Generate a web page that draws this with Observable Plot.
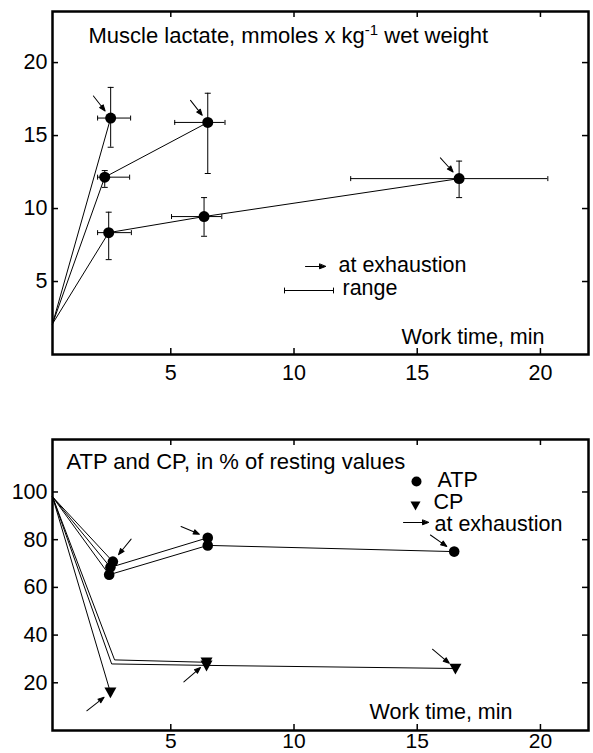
<!DOCTYPE html>
<html><head><meta charset="utf-8">
<script src="https://cdn.jsdelivr.net/npm/d3@7"></script>
<script src="https://cdn.jsdelivr.net/npm/@observablehq/plot@0.6"></script>
<style>body{margin:0;background:#fff} svg{display:block}</style>
</head><body><div id="chart"></div>
<script>
// ---------- DATA ----------
const restTime = 0.2;          // resting sample, drawn at the left edge of the frame
const lactRest = 2.1;          // mmol/kg wet weight at rest
const lactSeries   = ["A", "B", "B", "C", "C", "C"];
const lactTime     = [2.56, 2.32, 6.5, 2.48, 6.35, 16.7];
const lactValue    = [16.2, 12.15, 15.9, 8.35, 9.45, 12.05];
const lactLow      = [14.2, 11.45, 12.4, 6.5, 8.1, 10.75];
const lactHigh     = [18.3, 12.6, 17.9, 9.75, 10.75, 13.25];
const lactTimeLow  = [2.03, 2.03, 5.16, 2.03, 5.03, 12.3];
const lactTimeHigh = [3.37, 3.33, 7.2, 3.4, 7.07, 20.3];
const lactExhausted = [true, false, true, false, false, true];

const pctRest = 98;            // % of resting values at start
const atpSeries = ["A", "B", "B", "C", "C", "C"];
const atpTime   = [2.65, 2.55, 6.5, 2.5, 6.5, 16.5];
const atpValue  = [70.8, 68.4, 80.8, 65.3, 77.6, 75];
const atpExhausted = [true, false, true, false, false, true];
const cpSeries  = ["A", "B", "B", "C", "C", "C"];
const cpTime    = [2.55, 2.72, 6.45, 2.6, 6.45, 16.55];
const cpValue   = [16, 29.6, 28.6, 27.9, 27.3, 26];
const cpMarked  = [true, false, true, false, true, true];
const cpExhausted = [true, false, true, false, false, true];

const xTicks = [5, 10, 15, 20];
const lactTicks = [5, 10, 15, 20];
const pctTicks = [20, 40, 60, 80, 100];

// direction (deg, clockwise from north) of each "at exhaustion" arrow tail, seen from its point
const lactArrowDir = [-38, -38, -42];
const atpArrowDir = [39, -67, -55];
const cpArrowDir = [-128, -131, -50];

const titleTop = "Muscle lactate, mmoles x kg-1 wet weight";
const titleBottom = "ATP and CP, in % of resting values";
const xTitle = "Work time, min";

// ---------- BUILD ----------
const groups = ["A", "B", "C"];
const lactPts = lactSeries.map((s, i) => ({series: s, time: lactTime[i], value: lactValue[i],
  lo: lactLow[i], hi: lactHigh[i], tlo: lactTimeLow[i], thi: lactTimeHigh[i], exh: lactExhausted[i]}));
const lactLines = groups.flatMap(s => [{series: s, time: restTime, value: lactRest}, ...lactPts.filter(d => d.series === s)]);
const lactArrows = lactPts.filter(d => d.exh).map((d, j) => ({...d, dir: lactArrowDir[j]}));

const atpPts = atpSeries.map((s, i) => ({series: s, time: atpTime[i], value: atpValue[i], exh: atpExhausted[i]}));
const cpPts = cpSeries.map((s, i) => ({series: s, time: cpTime[i], value: cpValue[i], marked: cpMarked[i], exh: cpExhausted[i]}));
const atpLines = groups.flatMap(s => [{series: s, time: restTime, value: pctRest}, ...atpPts.filter(d => d.series === s)]);
const cpLines = groups.flatMap(s => [{series: s, time: restTime, value: pctRest}, ...cpPts.filter(d => d.series === s)]);
const atpArrows = atpPts.filter(d => d.exh).map((d, j) => ({...d, dir: atpArrowDir[j]}));
const cpArrows = cpPts.filter(d => d.exh).map((d, j) => ({...d, dir: cpArrowDir[j]}));

// ---------- SHAPES ----------
function arrowShape(gap) {
  return {draw(ctx, l) {
    const hl = 6, hw = 2.3;
    ctx.moveTo(0, -l);
    ctx.lineTo(0, -gap - hl + 1);
    ctx.moveTo(0, -gap);
    ctx.lineTo(-hw, -gap - hl);
    ctx.lineTo(hw, -gap - hl);
    ctx.closePath();
  }};
}
const rangeShape = {draw(ctx, l) {
  ctx.moveTo(0, 0); ctx.lineTo(0, -l);
  ctx.moveTo(-2.5, 0); ctx.lineTo(2.5, 0);
  ctx.moveTo(-2.5, -l); ctx.lineTo(2.5, -l);
}};
const hCap = {draw(ctx, size) { const r = Math.sqrt(size / Math.PI); ctx.moveTo(-r, 0); ctx.lineTo(r, 0); }};
const vCap = {draw(ctx, size) { const r = Math.sqrt(size / Math.PI); ctx.moveTo(0, -r); ctx.lineTo(0, r); }};
const downTri = {draw(ctx, size) {
  const r = Math.sqrt(size / Math.PI);
  ctx.moveTo(-r, -r * 0.8); ctx.lineTo(r, -r * 0.8); ctx.lineTo(0, r); ctx.closePath();
}};

const font = "'Liberation Sans', Arial, Helvetica, sans-serif";
const W = 593, ML = 52, MR = 5;
const innerW = W - ML - MR;
// labelled axes plus short inward ticks on all four sides of the frame
function axes(yTicks, xPad, innerH, fontSize) {
  const tk = {stroke: "black", strokeWidth: 1.5};
  return [
    Plot.axisX({ticks: xTicks, anchor: "bottom", tickSize: 0, tickPadding: xPad, label: null, fontSize}),
    Plot.axisY({ticks: yTicks, anchor: "left", tickSize: 0, tickPadding: 5, label: null}),
    Plot.tickX(xTicks, {x: d => d, insetTop: innerH - 6, ...tk}),
    Plot.tickX(xTicks, {x: d => d, insetBottom: innerH - 6, ...tk}),
    Plot.tickY(yTicks, {y: d => d, insetRight: innerW - 6, ...tk}),
    Plot.tickY(yTicks, {y: d => d, insetLeft: innerW - 6, ...tk})
  ];
}
const T = (s, o) => Plot.text([s], {text: d => d, lineAnchor: "bottom", fill: "black", ...o});

// ---------- TOP CHART ----------
const topH = 382, topMT = 11, topMB = 28;
const topChart = Plot.plot({
  width: W, height: topH,
  marginTop: topMT, marginRight: MR, marginBottom: topMB, marginLeft: ML,
  style: {fontFamily: font, fontSize: "21.5px", background: "white", color: "black", overflow: "visible"},
  x: {domain: [0.2, 21.95], label: null},
  y: {domain: [0, 23.5], label: null},
  marks: [
    Plot.line(lactLines, {x: "time", y: "value", z: "series", stroke: "black", strokeWidth: 1}),
    Plot.ruleX(lactPts, {x: "time", y1: "lo", y2: "hi", stroke: "black", strokeWidth: 1}),
    Plot.ruleY(lactPts, {y: "value", x1: "tlo", x2: "thi", stroke: "black", strokeWidth: 1}),
    Plot.dot(lactPts.flatMap(d => [{x: d.time, y: d.lo}, {x: d.time, y: d.hi}]), {x: "x", y: "y", symbol: hCap, r: 3, stroke: "black", fill: "none", strokeWidth: 1}),
    Plot.dot(lactPts.flatMap(d => [{x: d.tlo, y: d.value}, {x: d.thi, y: d.value}]), {x: "x", y: "y", symbol: vCap, r: 2.5, stroke: "black", fill: "none", strokeWidth: 1}),
    Plot.dot(lactPts, {x: "time", y: "value", r: 5.5, fill: "black", stroke: "none"}),
    Plot.vector(lactArrows, {x: "time", y: "value", rotate: "dir", length: 28, anchor: "start", shape: arrowShape(9), stroke: "black", fill: "black", strokeWidth: 1}),
    Plot.frame({stroke: "black", strokeWidth: 2.5}),
    ...axes(lactTicks, 10, topH - topMT - topMB, 21.5),
    T(titleTop, {frameAnchor: "top-left", dx: 36, dy: 31, textAnchor: "start", fontSize: 22}),
    T(xTitle, {frameAnchor: "bottom-right", dx: -44, dy: -11, textAnchor: "end", fontSize: 21.5}),
    Plot.vector([0], {frameAnchor: "top-left", dx: 273, dy: 255, rotate: -90, length: 20, anchor: "start", shape: arrowShape(0), stroke: "black", fill: "black", strokeWidth: 1}),
    T("at exhaustion", {frameAnchor: "top-left", dx: 286, dy: 260, textAnchor: "start", fontSize: 21.5}),
    Plot.vector([0], {frameAnchor: "top-left", dx: 232, dy: 279, rotate: 90, length: 49, anchor: "start", shape: rangeShape, stroke: "black", fill: "none", strokeWidth: 1}),
    T("range", {frameAnchor: "top-left", dx: 290, dy: 283, textAnchor: "start", fontSize: 21.5})
  ]
});
d3.select(topChart).selectAll("text").filter(function () { return this.textContent === titleTop; }).each(function () {
  const t = d3.select(this);
  const [a, b] = titleTop.split("-1");
  t.text(null);
  t.append("tspan").text(a);
  t.append("tspan").attr("font-size", 15).attr("dy", -8).text("-1");
  t.append("tspan").attr("dy", 8).text(b);
});

// ---------- BOTTOM CHART ----------
const botH = 371, botMT = 57, botMB = 23;
const bottomChart = Plot.plot({
  width: W, height: botH,
  marginTop: botMT, marginRight: MR, marginBottom: botMB, marginLeft: ML,
  style: {fontFamily: font, fontSize: "21.5px", background: "white", color: "black", overflow: "visible"},
  x: {domain: [0.2, 21.95], label: null},
  y: {domain: [0, 122], label: null},
  marks: [
    Plot.line(atpLines, {x: "time", y: "value", z: "series", stroke: "black", strokeWidth: 1}),
    Plot.line(cpLines, {x: "time", y: "value", z: "series", stroke: "black", strokeWidth: 1}),
    Plot.dot(atpPts, {x: "time", y: "value", r: 5.3, fill: "black", stroke: "none"}),
    Plot.dot(cpPts.filter(d => d.marked), {x: "time", y: "value", r: 6, symbol: downTri, fill: "black", stroke: "none"}),
    Plot.vector(atpArrows, {x: "time", y: "value", rotate: "dir", length: 29, anchor: "start", shape: arrowShape(9), stroke: "black", fill: "black", strokeWidth: 1}),
    Plot.vector(cpArrows, {x: "time", y: "value", rotate: "dir", length: 30, anchor: "start", shape: arrowShape(8), stroke: "black", fill: "black", strokeWidth: 1}),
    Plot.frame({stroke: "black", strokeWidth: 2.5}),
    ...axes(pctTicks, 3, botH - botMT - botMB, 21),
    T(titleBottom, {frameAnchor: "top-left", dx: 14, dy: 29, textAnchor: "start", fontSize: 22}),
    T(xTitle, {frameAnchor: "bottom-right", dx: -76, dy: -12, textAnchor: "end", fontSize: 21.5}),
    Plot.dot([0], {frameAnchor: "top-left", dx: 364, dy: 42, r: 5, fill: "black", stroke: "none"}),
    T("ATP", {frameAnchor: "top-left", dx: 385, dy: 47, textAnchor: "start", fontSize: 21.5}),
    Plot.dot([0], {frameAnchor: "top-left", dx: 363, dy: 66, r: 5, symbol: downTri, fill: "black", stroke: "none"}),
    T("CP", {frameAnchor: "top-left", dx: 381, dy: 69, textAnchor: "start", fontSize: 21.5}),
    Plot.vector([0], {frameAnchor: "top-left", dx: 376, dy: 83, rotate: -90, length: 25, anchor: "start", shape: arrowShape(0), stroke: "black", fill: "black", strokeWidth: 1}),
    T("at exhaustion", {frameAnchor: "top-left", dx: 382, dy: 91, textAnchor: "start", fontSize: 21.5})
  ]
});

const root = document.getElementById("chart");
root.appendChild(topChart);
root.appendChild(bottomChart);
</script></body></html>
